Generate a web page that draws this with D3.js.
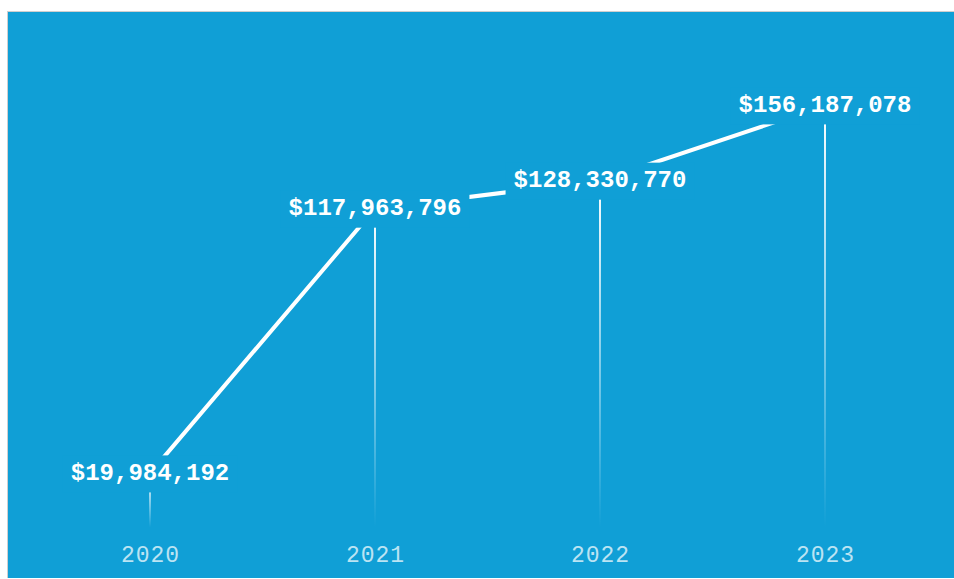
<!DOCTYPE html>
<html>
<head>
<meta charset="utf-8">
<script src="https://cdn.jsdelivr.net/npm/d3@7"></script>
<style>
  html, body { margin: 0; padding: 0; background: #fff; }
  svg { display: block; }
</style>
</head>
<body>
<svg id="chart" width="954" height="579"></svg>
<script>
// Yearly totals
const years = ["2020", "2021", "2022", "2023"];
const totals = [19984192, 117963796, 128330770, 156187078];

const W = 954, H = 579;
const bg = "#109fd6";
const svg = d3.select("#chart");

// Panel with a thin grey edge on the top and left
svg.append("rect")
  .attr("x", 8).attr("y", 12)
  .attr("width", W - 8).attr("height", H - 13)
  .attr("fill", bg);
svg.append("line")
  .attr("x1", 7.5).attr("x2", 7.5).attr("y1", 11).attr("y2", H - 1)
  .attr("stroke", "#cfcfcf").attr("stroke-width", 1);
svg.append("line")
  .attr("x1", 7).attr("x2", W).attr("y1", 11.5).attr("y2", 11.5)
  .attr("stroke", "#cfcfcf").attr("stroke-width", 1);

const data = years.map((y, i) => ({ year: y, value: totals[i] }));

const x = d3.scalePoint().domain(years).range([37.5, 937.5]).padding(0.5);
const y = d3.scaleLinear().domain([0, d3.max(totals)]).range([527.4, 105.4]);

const fmt = v => "$" + d3.format(",")(v);

// Fading drop lines
const defs = svg.append("defs");
const grad = defs.append("linearGradient")
  .attr("id", "fade").attr("x1", 0).attr("x2", 0).attr("y1", 0).attr("y2", 1);
grad.append("stop").attr("offset", "0%").attr("stop-color", "#fff").attr("stop-opacity", 1);
grad.append("stop").attr("offset", "100%").attr("stop-color", "#fff").attr("stop-opacity", 0);

const base = y(0);
svg.append("g").selectAll("rect.drop")
  .data(data).join("rect")
  .attr("class", "drop")
  .attr("x", d => x(d.year) - 1)
  .attr("y", d => y(d.value))
  .attr("width", 2)
  .attr("height", d => base - y(d.value))
  .attr("fill", "url(#fade)");

// Trend line
svg.append("path")
  .datum(data)
  .attr("fill", "none")
  .attr("stroke", "#fff")
  .attr("stroke-width", 4)
  .attr("d", d3.line().x(d => x(d.year)).y(d => y(d.value)));

// Value labels on blue plates
const labels = svg.append("g").selectAll("g.lab")
  .data(data).join("g")
  .attr("class", "lab")
  .attr("transform", d => `translate(${x(d.year)},${y(d.value)})`);

labels.append("text")
  .attr("text-anchor", "middle")
  .attr("dy", "0.28em")
  .attr("font-family", "'Liberation Mono', 'Courier New', monospace")
  .attr("font-weight", "bold")
  .attr("font-size", 24)
  .attr("fill", "#fff")
  .text(d => fmt(d.value));

labels.each(function() {
  const g = d3.select(this);
  const bb = g.select("text").node().getBBox();
  g.insert("rect", "text")
    .attr("x", bb.x - 8)
    .attr("y", -18)
    .attr("width", bb.width + 16)
    .attr("height", 37)
    .attr("fill", bg);
});

// Year axis
const axis = svg.append("g")
  .attr("transform", `translate(0,${base})`)
  .call(d3.axisBottom(x).tickSize(0).tickPadding(18));
axis.select(".domain").remove();
axis.selectAll("text")
  .attr("font-family", "'Liberation Mono', 'Courier New', monospace")
  .attr("font-size", 23)
  .attr("letter-spacing", 1)
  .attr("fill", "rgba(255,255,255,0.72)");
</script>
</body>
</html>
